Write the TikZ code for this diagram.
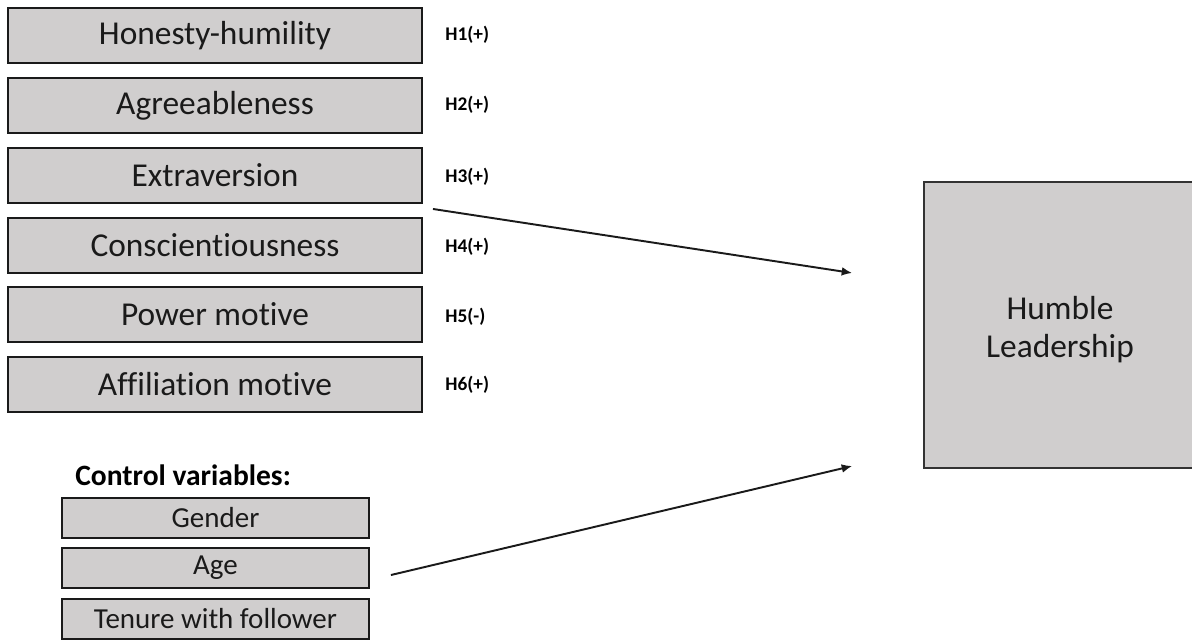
\documentclass[tikz,border=0pt]{standalone}
\usepackage{fontspec}
\setmainfont{Carlito}[Ligatures={NoCommon,NoContextual},Contextuals=NoAlternate]
\usetikzlibrary{arrows.meta,positioning,calc}
\definecolor{boxgray}{HTML}{D0CECE}
\definecolor{inkgray}{HTML}{1A1A1A}

\begin{document}
\begin{tikzpicture}[
  x=0.02cm,y=-0.02cm,
  trait/.style={draw=inkgray,line width=1.1pt,fill=boxgray,text=inkgray,
    minimum width=8.28cm,minimum height=1.1cm,inner sep=0pt,
    font=\fontsize{19}{23}\selectfont},
  control/.style={trait,minimum width=6.14cm,minimum height=0.8cm,
    font=\fontsize{16.5}{20}\selectfont},
  hyp/.style={anchor=west,inner sep=0pt,font=\fontsize{11}{13}\selectfont\bfseries},
  outcome/.style={trait,minimum width=5.44cm,minimum height=5.72cm,align=center,
    draw=black!80,line width=0.9pt,font=\fontsize{19}{22}\selectfont},
  flow/.style={-{Latex[length=6pt,width=5pt]},line width=1.1pt,draw=inkgray}
]
  \useasboundingbox (0,0) rectangle (1192,640);

  \node[trait] (honesty) at (215,35.5) {Honesty-humility};
  \node[trait] (agree) at (215,105.5) {Agreeableness};
  \node[trait] (extra) at (215,175.5) {Extraversion};
  \node[trait] (consc) at (215,245.5) {Conscientiousness};
  \node[trait] (power) at (215,314.5) {Power motive};
  \node[trait] (affil) at (215,384.5) {Affiliation motive};

  \node[hyp] (h1) at (445,35) {H1(+)};
  \node[hyp] (h2) at (445,105) {H2(+)};
  \node[hyp] (h3) at (445,177) {H3(+)};
  \node[hyp] (h4) at (445,247) {H4(+)};
  \node[hyp] (h5) at (445,317) {H5(-)};
  \node[hyp] (h6) at (445,385) {H6(+)};

  \node[anchor=west,inner sep=0pt,text=black,font=\fontsize{16.8}{20}\selectfont\bfseries]
    (ctrl) at (75,475) {Control variables:};
  \node[control] (gender) at (215.5,518) {Gender};
  \node[control] (age) at (215.5,568) {Age};
  \node[control] (tenure) at (215.5,619) {Tenure with follower};

  \node[outcome] (humble) at (1060,325) {\rule{0pt}{18.6pt}Humble\\Leadership};

  \draw[flow] ([shift={(10,5)}]extra.south east) -- ([shift={(-71,-52)}]humble.west);
  \draw[flow] ([shift={(21,7)}]age.east) -- ([shift={(-71,141)}]humble.west);
\end{tikzpicture}
\end{document}
